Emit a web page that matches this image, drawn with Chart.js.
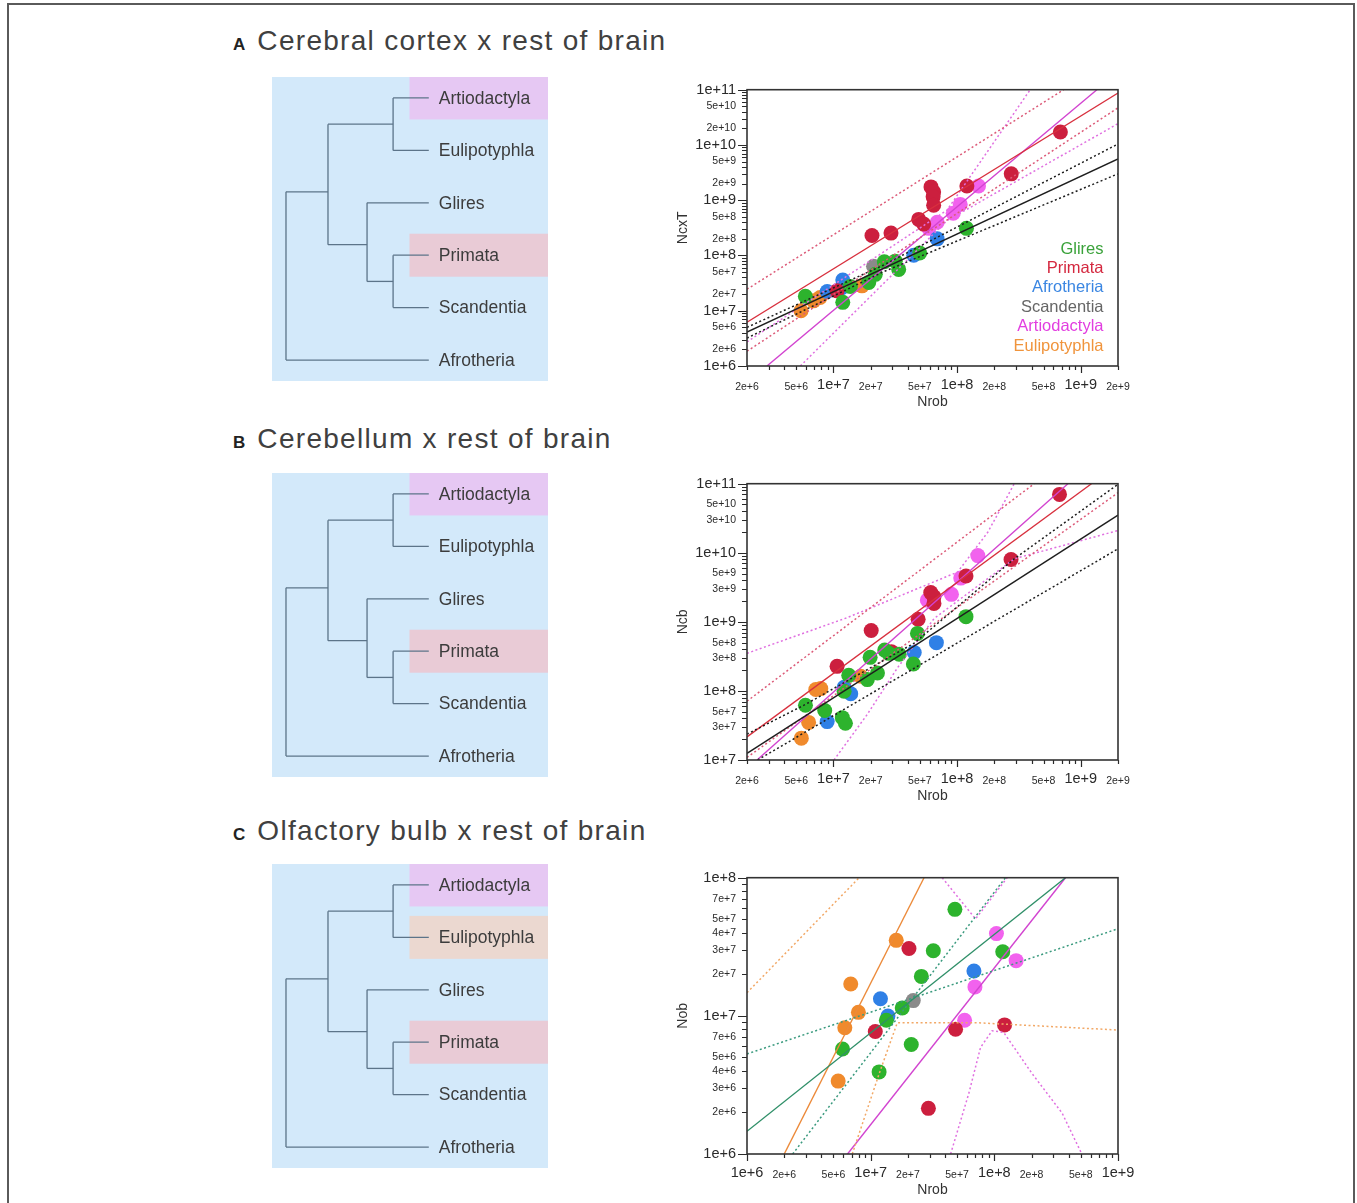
<!DOCTYPE html>
<html>
<head>
<meta charset="utf-8">
<script src="https://cdn.jsdelivr.net/npm/chart.js@4.4.1/dist/chart.umd.min.js"></script>
<style>
  body { margin: 0; background: #fff; font-family: "Liberation Sans", Arial, sans-serif; }
  #page { position: relative; width: 1357px; height: 1203px; overflow: hidden; background: #fff; }
  .frame { position: absolute; left: 7px; top: 3px; width: 1344px; height: 1300px; border: 2px solid #5a5a5a; }
  .title { position: absolute; left: 233px; height: 40px; line-height: 40px; font-size: 28px; color: #404040; letter-spacing: 1.3px; white-space: nowrap; }
  .title b { font-size: 17px; color: #222; letter-spacing: 0; margin-right: 3px; }
  .tree { position: absolute; left: 272px; }
  .plot { position: absolute; left: 640px; }
</style>
</head>
<body>
<div id="page">
  <div class="frame"></div>

  <div class="title" style="top:21px"><b>A</b> Cerebral cortex x rest of brain</div>
  <canvas id="treeA" class="tree" width="276" height="304" style="top:77px"></canvas>
  <canvas id="plotA" class="plot" width="540" height="345" style="top:70px"></canvas>

  <div class="title" style="top:419px"><b>B</b> Cerebellum x rest of brain</div>
  <canvas id="treeB" class="tree" width="276" height="304" style="top:473px"></canvas>
  <canvas id="plotB" class="plot" width="540" height="345" style="top:464px"></canvas>

  <div class="title" style="top:811px"><b>C</b> Olfactory bulb x rest of brain</div>
  <canvas id="treeC" class="tree" width="276" height="304" style="top:864px"></canvas>
  <canvas id="plotC" class="plot" width="540" height="345" style="top:858px"></canvas>
</div>

<script>
// ---- groups ----
const groupNames = ['Glires', 'Primata', 'Afrotheria', 'Scandentia', 'Artiodactyla', 'Eulipotyphla'];
const groupColors = ['#2db32d', '#cc1f3e', '#2f80e6', '#8a8a8a', '#f262ee', '#f08a2c'];
const legendColors = ['#3aa23a', '#d4283f', '#3a86e2', '#666666', '#e23ee0', '#f0943c'];

// ---- cladogram ----
const cladeTips = ['Artiodactyla', 'Eulipotyphla', 'Glires', 'Primata', 'Scandentia', 'Afrotheria'];
// [node, depth, child, child, row (optional, else midway between children)]
const cladeNodes = [
  ['root', 0, 'n1', 'Afrotheria'],
  ['n1', 1, 'n2', 'n3', 1.79],
  ['n2', 2.55, 'Artiodactyla', 'Eulipotyphla'],
  ['n3', 1.93, 'Glires', 'n4', 2.8],
  ['n4', 2.55, 'Primata', 'Scandentia']
];
const tipDepth = 3.4;
const highlightsAB = [['Artiodactyla', '#e6c8f3'], ['Primata', '#e9cbd6']];
const highlightsC = [['Artiodactyla', '#e6c8f3'], ['Eulipotyphla', '#ebd8d0'], ['Primata', '#e9cbd6']];

// ---- tick labels ----
const xTicksAB = ['2e+6', '5e+6', '1e+7', '2e+7', '5e+7', '1e+8', '2e+8', '5e+8', '1e+9', '2e+9'];
const xTicksC = ['1e+6', '2e+6', '5e+6', '1e+7', '2e+7', '5e+7', '1e+8', '2e+8', '5e+8', '1e+9'];
const yTicksA = ['1e+6', '2e+6', '5e+6', '1e+7', '2e+7', '5e+7', '1e+8', '2e+8', '5e+8', '1e+9', '2e+9', '5e+9', '1e+10', '2e+10', '5e+10', '1e+11'];
const yTicksB = ['1e+7', '3e+7', '5e+7', '1e+8', '3e+8', '5e+8', '1e+9', '3e+9', '5e+9', '1e+10', '3e+10', '5e+10', '1e+11'];
const yTicksC = ['1e+6', '2e+6', '3e+6', '4e+6', '5e+6', '7e+6', '1e+7', '2e+7', '3e+7', '4e+7', '5e+7', '7e+7', '1e+8'];

// ---- A: cerebral cortex vs rest of brain, [Nrob, NcxT] ----
const cortexGlires = [[1.19e8, 3.1e8], [4.98e7, 1.11e8], [3.37e7, 5.6e7], [3.16e7, 7.9e7], [2.58e7, 7.7e7], [2.18e7, 4.56e7], [1.93e7, 3.24e7], [1.37e7, 2.74e7], [1.19e7, 1.42e7], [5.93e6, 1.82e7]];
const cortexPrimata = [[6.84e8, 1.72e10], [2.74e8, 3.0e9], [1.2e8, 1.81e9], [6.15e7, 1.74e9], [6.46e7, 1.41e9], [6.4e7, 1.15e9], [6.46e7, 8.1e8], [4.89e7, 4.5e8], [5.37e7, 3.7e8], [2.92e7, 2.54e8], [2.05e7, 2.3e8], [1.07e7, 2.29e7]];
const cortexAfrotheria = [[6.9e7, 2.0e8], [4.46e7, 1.01e8], [1.19e7, 3.6e7], [8.9e6, 2.23e7], [1.17e7, 2.6e7]];
const cortexScandentia = [[2.11e7, 6.4e7]];
const cortexArtiodactyla = [[1.49e8, 1.81e9], [1.06e8, 8.4e8], [9.3e7, 5.8e8], [6.9e7, 4.0e8], [5.9e7, 3.1e8]];
const cortexEulipotyphla = [[5.47e6, 1.0e7], [7.8e6, 1.74e7], [6.9e6, 1.51e7], [1.7e7, 2.82e7]];

const cortexFitAll = [[2e6, 4.1e6], [2e9, 5.6e9]];
const cortexBandAllUp = [[2e6, 5.0e6], [2.5e7, 6.6e7], [2e9, 1.04e10]];
const cortexBandAllLow = [[2e6, 3.2e6], [2.5e7, 5.0e7], [2e9, 3.0e9]];
const cortexFitPrimata = [[2e6, 6.2e6], [2e9, 8.7e10]];
const cortexBandPrimataUp = [[2e6, 2.45e7], [7.28e8, 1e11]];
const cortexBandPrimataLow = [[2e6, 1.85e6], [2e9, 4.7e10]];
const cortexFitArtio = [[2.9e6, 1e6], [1.35e9, 1e11]];
const cortexBandArtioUp = [[2e6, 2.73e6], [8.28e7, 6.6e8], [3.9e8, 1e11]];
const cortexBandArtioLow = [[5.4e6, 1e6], [8.28e7, 4.28e8], [2e9, 2.43e10]];

// ---- B: cerebellum vs rest of brain, [Nrob, Ncb] ----
const cerebGlires = [[1.18e8, 1.19e9], [4.78e7, 6.8e8], [4.43e7, 2.45e8], [2.6e7, 3.9e8], [2.8e7, 3.5e8], [3.4e7, 3.4e8], [1.98e7, 3.06e8], [2.27e7, 1.82e8], [1.88e7, 1.46e8], [1.33e7, 1.68e8], [1.22e7, 9.9e7], [8.5e6, 5.2e7], [5.94e6, 6.2e7], [1.18e7, 4.1e7], [1.25e7, 3.4e7]];
const cerebPrimata = [[6.73e8, 7.0e10], [2.73e8, 8.0e9], [1.18e8, 4.6e9], [6.12e7, 2.65e9], [6.5e7, 2.3e9], [6.5e7, 1.85e9], [4.84e7, 1.09e9], [2.02e7, 7.5e8], [1.07e7, 2.27e8], [2.94e7, 3.7e8]];
const cerebAfrotheria = [[6.8e7, 5.0e8], [4.5e7, 3.6e8], [1.22e7, 1.13e8], [1.38e7, 9.1e7], [8.9e6, 3.6e7]];
const cerebScandentia = [];
const cerebArtiodactyla = [[1.47e8, 9.1e9], [1.07e8, 4.3e9], [9.0e7, 2.5e9], [5.75e7, 2.06e9]];
const cerebEulipotyphla = [[7.2e6, 1.05e8], [7.9e6, 1.08e8], [6.3e6, 3.5e7], [5.5e6, 2.07e7], [1.66e7, 1.63e8]];

const cerebFitAll = [[2e6, 1.25e7], [2e9, 3.5e10]];
const cerebBandAllUp = [[2e6, 2.37e7], [5.94e6, 6.38e7], [4.49e7, 4.91e8], [2.9e8, 8.19e9], [2e9, 9.8e10]];
const cerebBandAllLow = [[2.44e6, 1e7], [2e9, 1.14e10]];
const cerebFitPrimata = [[2e6, 2.16e7], [1.22e9, 1e11]];
const cerebBandPrimataUp = [[2e6, 7.1e7], [4.2e8, 1e11]];
const cerebBandPrimataLow = [[2e6, 1.09e7], [2e9, 7.4e10]];
const cerebFitArtio = [[2.41e6, 1e7], [7.87e8, 1e11]];
const cerebBandArtioUp = [[2e6, 3.5e8], [1.29e7, 1.15e9], [1.01e8, 5.26e9], [1.77e8, 1.98e10], [2.9e8, 1e11]];
const cerebBandArtioLow = [[1.01e7, 1e7], [1.88e7, 4.58e7], [3.29e7, 2.15e8], [6.52e7, 1.12e9], [2.9e8, 8.19e9], [2e9, 2.1e10]];

// ---- C: olfactory bulb vs rest of brain, [Nrob, Nob] ----
const bulbGlires = [[4.8e7, 5.9e7], [3.21e7, 2.96e7], [1.17e8, 2.91e7], [2.57e7, 1.93e7], [1.8e7, 1.14e7], [1.34e7, 9.3e6], [2.13e7, 6.2e6], [5.92e6, 5.75e6], [1.17e7, 3.93e6]];
const bulbPrimata = [[2.04e7, 3.07e7], [1.09e7, 7.7e6], [4.86e7, 8.0e6], [1.21e8, 8.6e6], [2.93e7, 2.14e6]];
const bulbAfrotheria = [[1.2e7, 1.33e7], [1.38e7, 9.97e6], [6.84e7, 2.11e7]];
const bulbScandentia = [[2.21e7, 1.29e7]];
const bulbArtiodactyla = [[1.04e8, 3.94e7], [1.5e8, 2.51e7], [6.97e7, 1.62e7], [5.75e7, 9.3e6]];
const bulbEulipotyphla = [[1.61e7, 3.52e7], [6.9e6, 1.7e7], [7.96e6, 1.06e7], [6.18e6, 8.2e6], [5.46e6, 3.37e6]];

const bulbFitGlires = [[1e6, 1.46e6], [3.76e8, 1e8]];
const bulbBandGliresA = [[1e6, 5.3e6], [1e9, 4.27e7]];
const bulbBandGliresB = [[2.34e6, 1e6], [1.23e8, 1e8]];
const bulbFitEuli = [[2e6, 1e6], [2.7e7, 1e8]];
const bulbBandEuliUp = [[1e6, 1.47e7], [8.07e6, 1e8]];
const bulbBandEuliLow = [[7.1e6, 1e6], [1.17e7, 3.8e6], [1.64e7, 8.9e6], [7.5e7, 8.9e6], [1e9, 7.9e6]];
const bulbFitArtio = [[6.5e6, 1e6], [3.76e8, 1e8]];
const bulbBandArtioUp = [[3.79e7, 1e8], [7.05e7, 5.03e7], [1.27e8, 1e8]];
const bulbBandArtioLow = [[4.43e7, 1e6], [6.22e7, 2.75e6], [7.74e7, 5.92e6], [9.6e7, 7.8e6], [1.19e8, 7.59e6], [2.02e8, 3.82e6], [3.53e8, 1.98e6], [5.1e8, 1e6]];

// ---- helpers ----
const FONT = '"Liberation Sans", Arial, sans-serif';
Chart.defaults.font.family = FONT;

const toXY = arr => arr.map(([x, y]) => ({ x, y }));
const isDecade = v => Math.abs(Math.log10(v) - Math.round(Math.log10(v))) < 1e-9;

function minorTicks(min, max) {
  const out = [];
  for (let k = Math.floor(Math.log10(min)); k <= Math.ceil(Math.log10(max)); k++) {
    for (let m = 1; m <= 9; m++) {
      const v = m * Math.pow(10, k);
      if (v >= min * 0.999999 && v <= max * 1.000001) out.push({ value: v });
    }
  }
  return out;
}

function labelFor(v, labels) {
  const hit = labels.find(s => Math.abs(Number(s) / v - 1) < 1e-9);
  return hit || '';
}

// ---- cladogram chart ----
function drawTree(id, highlights) {
  const row = {}, depth = {};
  cladeTips.forEach((t, i) => { row[t] = i; depth[t] = tipDepth; });
  [...cladeNodes].reverse().forEach(([name, d, a, b, r]) => {
    depth[name] = d;
    row[name] = r !== undefined ? r : (row[a] + row[b]) / 2;
  });

  const segments = [];
  cladeNodes.forEach(([name, d, a, b]) => {
    segments.push([[d, row[a]], [d, row[b]]]);
    [a, b].forEach(c => segments.push([[d, row[c]], [depth[c], row[c]]]));
  });

  const treeDecor = {
    id: 'treeDecor',
    beforeDraw(chart) {
      const { ctx } = chart;
      ctx.save();
      ctx.fillStyle = '#d3e9fa';
      ctx.fillRect(0, 0, chart.width, chart.height);
      ctx.restore();
    },
    beforeDatasetsDraw(chart) {
      const { ctx, scales: { x, y } } = chart;
      ctx.save();
      highlights.forEach(([tip, color]) => {
        const y0 = y.getPixelForValue(row[tip] - 0.41);
        const y1 = y.getPixelForValue(row[tip] + 0.41);
        const x0 = x.getPixelForValue(2.94);
        ctx.fillStyle = color;
        ctx.fillRect(x0, y0, chart.width - x0, y1 - y0);
      });
      ctx.restore();
    },
    afterDatasetsDraw(chart) {
      const { ctx, scales: { x, y } } = chart;
      ctx.save();
      ctx.font = '17.5px ' + FONT;
      ctx.fillStyle = '#3c3c3c';
      ctx.textBaseline = 'middle';
      cladeTips.forEach(t => {
        ctx.fillText(t, x.getPixelForValue(tipDepth) + 10, y.getPixelForValue(row[t]) + 1);
      });
      ctx.restore();
    }
  };

  new Chart(document.getElementById(id), {
    type: 'scatter',
    data: {
      datasets: segments.map(s => ({
        data: toXY(s), showLine: true, borderColor: '#5c7489', borderWidth: 1.3,
        pointRadius: 0, fill: false
      }))
    },
    options: {
      responsive: false, animation: false, devicePixelRatio: 1, events: [],
      layout: { padding: 0 },
      plugins: { legend: { display: false }, tooltip: { enabled: false } },
      scales: {
        x: { type: 'linear', display: false, min: -0.333, max: 6.238 },
        y: { type: 'linear', display: false, min: -0.4, max: 5.4, reverse: true }
      }
    },
    plugins: [treeDecor]
  });
}

// ---- scatter plots ----
const axisMarks = {
  id: 'axisMarks',
  afterDatasetsDraw(chart) {
    const { ctx, chartArea: a, scales: { x, y } } = chart;
    ctx.save();
    ctx.strokeStyle = '#2a2a2a';
    ctx.lineWidth = 1.2;
    ctx.beginPath();
    x.ticks.forEach(t => {
      const px = Math.round(x.getPixelForValue(t.value)) + 0.5;
      const len = isDecade(t.value) ? 7 : 4;
      ctx.moveTo(px, a.bottom); ctx.lineTo(px, a.bottom + len);
    });
    y.ticks.forEach(t => {
      const py = Math.round(y.getPixelForValue(t.value)) + 0.5;
      const len = isDecade(t.value) ? 9 : 5;
      ctx.moveTo(a.left, py); ctx.lineTo(a.left - len, py);
    });
    ctx.stroke();
    ctx.lineWidth = 1.6;
    ctx.strokeStyle = '#333';
    ctx.strokeRect(a.left, a.top, a.right - a.left, a.bottom - a.top);
    ctx.restore();
  }
};

const groupLegend = {
  id: 'groupLegend',
  afterDatasetsDraw(chart) {
    const { ctx, chartArea: a } = chart;
    ctx.save();
    ctx.font = '16.5px ' + FONT;
    ctx.textAlign = 'right';
    ctx.textBaseline = 'middle';
    const n = groupNames.length;
    groupNames.forEach((name, i) => {
      ctx.fillStyle = legendColors[i];
      ctx.fillText(name, a.right - 14.5, a.bottom - 20 - (n - 1 - i) * 19.4);
    });
    ctx.restore();
  }
};

function drawPlot(id, spec) {
  const datasets = [];
  spec.lines.forEach(([data, color, dotted]) => datasets.push({
    data: toXY(data), showLine: true, borderColor: color, borderWidth: dotted ? 1.5 : 1.4,
    borderDash: dotted ? [2, 2.5] : [], pointRadius: 0, fill: false, order: 0
  }));
  spec.points.forEach((pts, i) => datasets.push({
    data: toXY(pts), backgroundColor: groupColors[i], borderWidth: 0,
    pointRadius: 7.5, order: 1
  }));

  const tickFont = ctx => ({
    family: FONT,
    size: ctx.tick && isDecade(ctx.tick.value) ? 14.5 : 10.5
  });

  new Chart(document.getElementById(id), {
    type: 'scatter',
    data: { datasets },
    options: {
      responsive: false, animation: false, devicePixelRatio: 1, events: [],
      layout: { padding: { left: 35, right: 62, top: 17, bottom: 4 } },
      plugins: { legend: { display: false }, tooltip: { enabled: false } },
      scales: {
        x: {
          type: 'logarithmic', position: 'bottom', min: spec.xMin, max: spec.xMax,
          afterBuildTicks: s => { s.ticks = minorTicks(spec.xMin, spec.xMax); },
          afterFit: s => { s.height = 45; },
          grid: { display: false, drawTicks: false },
          border: { display: false },
          ticks: {
            autoSkip: false, maxRotation: 0, minRotation: 0, padding: 19, crossAlign: 'center',
            color: '#2a2a2a', font: tickFont, callback: v => labelFor(v, spec.xTicks)
          },
          title: { display: true, text: 'Nrob', color: '#333', font: { size: 14 }, padding: { top: 0, bottom: 0 } }
        },
        y: {
          type: 'logarithmic', position: 'left', min: spec.yMin, max: spec.yMax,
          afterBuildTicks: s => { s.ticks = minorTicks(spec.yMin, spec.yMax); },
          afterFit: s => { s.width = 72; },
          grid: { display: false, drawTicks: false },
          border: { display: false },
          ticks: {
            autoSkip: false, padding: 11, color: '#2a2a2a', font: tickFont,
            callback: v => labelFor(v, spec.yTicks)
          },
          title: { display: true, text: spec.yTitle, color: '#333', font: { size: 14 }, padding: { top: 0, bottom: 0 } }
        }
      }
    },
    plugins: spec.legend ? [axisMarks, groupLegend] : [axisMarks]
  });
}

const BLACK = '#1e1e1e', RED = '#d8303e', RED_DOT = '#dc5a78', MAG = '#d244d0', MAG_DOT = '#e070e0';

drawTree('treeA', highlightsAB);
drawTree('treeB', highlightsAB);
drawTree('treeC', highlightsC);

drawPlot('plotA', {
  xMin: 2e6, xMax: 2e9, yMin: 1e6, yMax: 1e11, xTicks: xTicksAB, yTicks: yTicksA, yTitle: 'NcxT', legend: true,
  points: [cortexGlires, cortexPrimata, cortexAfrotheria, cortexScandentia, cortexArtiodactyla, cortexEulipotyphla],
  lines: [
    [cortexFitAll, BLACK, false], [cortexBandAllUp, BLACK, true], [cortexBandAllLow, BLACK, true],
    [cortexFitPrimata, RED, false], [cortexBandPrimataUp, RED_DOT, true], [cortexBandPrimataLow, RED_DOT, true],
    [cortexFitArtio, MAG, false], [cortexBandArtioUp, MAG_DOT, true], [cortexBandArtioLow, MAG_DOT, true]
  ]
});

drawPlot('plotB', {
  xMin: 2e6, xMax: 2e9, yMin: 1e7, yMax: 1e11, xTicks: xTicksAB, yTicks: yTicksB, yTitle: 'Ncb', legend: false,
  points: [cerebGlires, cerebPrimata, cerebAfrotheria, cerebScandentia, cerebArtiodactyla, cerebEulipotyphla],
  lines: [
    [cerebFitAll, BLACK, false], [cerebBandAllUp, BLACK, true], [cerebBandAllLow, BLACK, true],
    [cerebFitPrimata, RED, false], [cerebBandPrimataUp, RED_DOT, true], [cerebBandPrimataLow, RED_DOT, true],
    [cerebFitArtio, MAG, false], [cerebBandArtioUp, MAG_DOT, true], [cerebBandArtioLow, MAG_DOT, true]
  ]
});

drawPlot('plotC', {
  xMin: 1e6, xMax: 1e9, yMin: 1e6, yMax: 1e8, xTicks: xTicksC, yTicks: yTicksC, yTitle: 'Nob', legend: false,
  points: [bulbGlires, bulbPrimata, bulbAfrotheria, bulbScandentia, bulbArtiodactyla, bulbEulipotyphla],
  lines: [
    [bulbFitGlires, '#2f8f68', false], [bulbBandGliresA, '#3a9a7e', true], [bulbBandGliresB, '#3a9a7e', true],
    [bulbFitEuli, '#ec8a3a', false], [bulbBandEuliUp, '#f2a866', true], [bulbBandEuliLow, '#f2a866', true],
    [bulbFitArtio, MAG, false], [bulbBandArtioUp, MAG_DOT, true], [bulbBandArtioLow, MAG_DOT, true]
  ]
});
</script>
</body>
</html>
